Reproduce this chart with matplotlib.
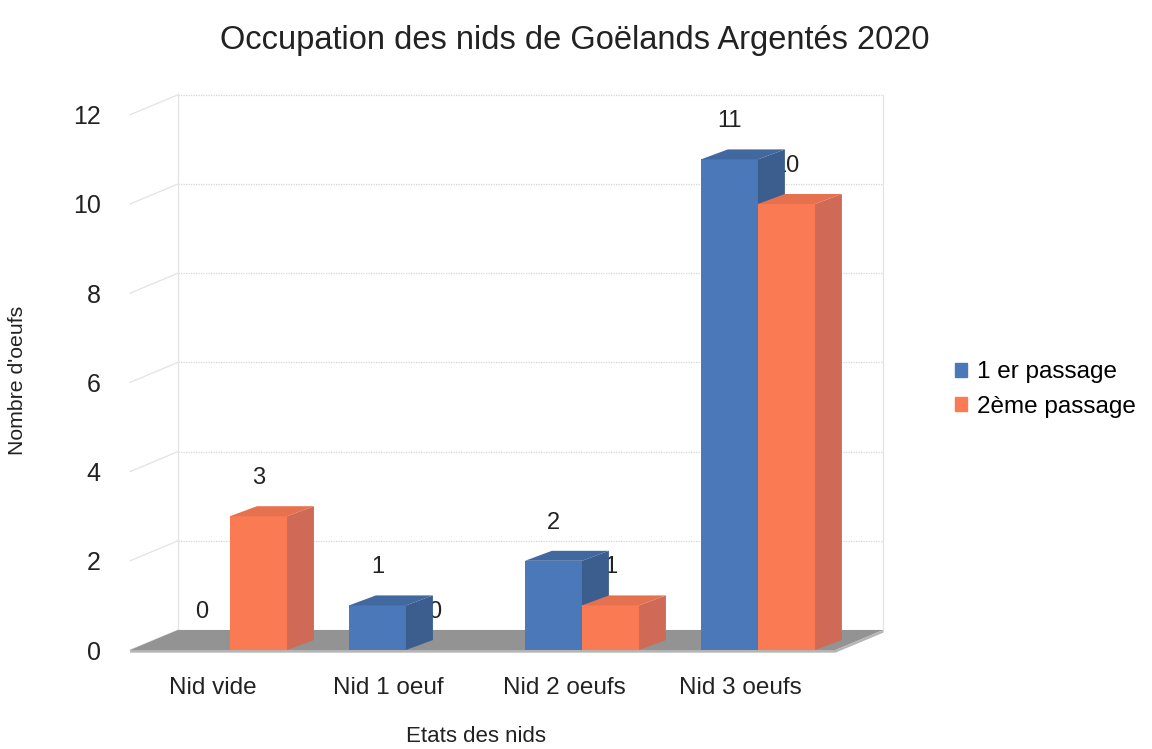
import numpy as np
import matplotlib.pyplot as plt
from matplotlib.patches import Polygon, Patch

plt.rcParams['font.family'] = ['Liberation Sans', 'DejaVu Sans']

categories = ["Nid vide", "Nid 1 oeuf", "Nid 2 oeufs", "Nid 3 oeufs"]
series_names = ["1 er passage", "2ème passage"]
passage1 = [0, 1, 2, 11]
passage2 = [3, 0, 1, 10]
yticks = [0, 2, 4, 6, 8, 10, 12]

front_cols = ["#4a78b9", "#fa7b53"]
top_cols = ["#42699f", "#e5714f"]
side_cols = ["#3b5e8e", "#cf6a56"]

fig = plt.figure(figsize=(11.52, 7.49), dpi=100)
ax = fig.add_axes([120/1152, 89/749, 780/1152, 575/749])
ax.set_xlim(-0.625, 3.807)
ax.set_ylim(-0.224, 12.668)
for s in ax.spines.values():
    s.set_visible(False)

# walls / floor of the fake 3d box
ddx, ddy = 0.273, 0.45
fx0, fx1 = -0.568, 3.44
for v in yticks:
    ax.plot([fx0, fx0 + ddx], [v, v + ddy], color="#e3e3e3", lw=0.9, zorder=1)
    if v > 0:
        ax.plot([fx0 + ddx, fx1 + ddx], [v + ddy, v + ddy], color="#d6d6d6",
                lw=0.9, ls=(0, (1, 1)), zorder=1)
ax.plot([fx0 + ddx, fx0 + ddx], [ddy, 12 + ddy], color="#e3e3e3", lw=0.9, zorder=1)
ax.plot([fx1 + ddx, fx1 + ddx], [ddy, 12 + ddy], color="#e3e3e3", lw=0.9, zorder=1)
ax.add_patch(Polygon([(fx0, 0), (fx1, 0), (fx1 + ddx, ddy), (fx0 + ddx, ddy)],
                     closed=True, fc="#939393", ec="none", zorder=2))
ax.add_patch(Polygon([(fx0, -0.06), (fx1, -0.06), (fx1 + ddx, ddy - 0.06), (fx1 + ddx, ddy),
                      (fx1, 0), (fx0, 0)], closed=True, fc="#b5b5b5", ec="none", zorder=2))

# bars
w = 0.324
bdx, bdy = 0.153, 0.224
x = np.arange(len(categories))
for k, vals in enumerate([passage1, passage2]):
    x0s = x - w + k * w
    for x0, h in zip(x0s, vals):
        ax.text(x0 + w / 2, h + 0.85, str(h), ha="center", va="center",
                fontsize=17, color="#222222", zorder=3)
        if h == 0:
            continue
        x1 = x0 + w
        z = 5 + k
        ax.bar(x0, h, width=w, align="edge", color=front_cols[k], zorder=z)
        ax.add_patch(Polygon([(x0, h), (x1, h), (x1 + bdx, h + bdy), (x0 + bdx, h + bdy)],
                             closed=True, fc=top_cols[k], ec="none", zorder=z))
        ax.add_patch(Polygon([(x1, 0), (x1 + bdx, bdy), (x1 + bdx, h + bdy), (x1, h)],
                             closed=True, fc=side_cols[k], ec="none", zorder=z))

ax.set_yticks(yticks)
ax.set_yticklabels([str(v) for v in yticks], fontsize=18)
ax.set_xticks(x - 0.1)
ax.set_xticklabels(categories, fontsize=17.5)
ax.tick_params(axis="both", length=0, colors="#222222")
ax.tick_params(axis="y", pad=14)
ax.tick_params(axis="x", pad=12)

fig.text(0.499, 1 - 40/749, "Occupation des nids de Goëlands Argentés 2020",
         ha="center", va="center", fontsize=23.5, color="#222222")
fig.text(476/1152, 1 - 736/749, "Etats des nids", ha="center", va="center",
         fontsize=16, color="#222222")
fig.text(18/1152, 1 - 380/749, "Nombre d'oeufs", ha="center", va="center",
         rotation=90, fontsize=15.3, color="#222222")

handles = [Patch(color=c) for c in front_cols]
fig.legend(handles, series_names, loc="center left", bbox_to_anchor=(0.81, 0.48),
           frameon=False, fontsize=17.5, handlelength=0.5, handleheight=0.5,
           handletextpad=0.4, labelspacing=0.5)

fig.savefig("out.png", dpi=100)
